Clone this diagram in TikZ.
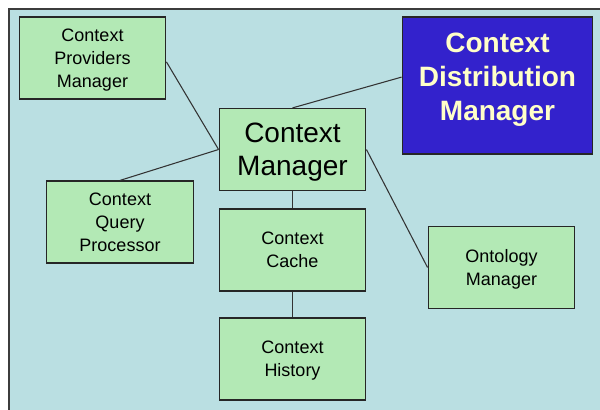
\documentclass[tikz,border=0pt]{standalone}
\usepackage{fontspec}
\setmainfont{Liberation Sans}
\usetikzlibrary{positioning}
\definecolor{panelbg}{RGB}{186,223,226}
\definecolor{boxgreen}{RGB}{179,233,181}
\definecolor{boxblue}{RGB}{51,34,204}
\definecolor{textyellow}{RGB}{255,255,200}
\definecolor{framegray}{RGB}{60,60,60}

\begin{document}
\begin{tikzpicture}[x=0.75pt, y=-0.75pt, module/.style={rectangle, draw=black!85, fill=boxgreen, line width=0.9pt, minimum width=110pt, minimum height=61.5pt, align=center, text depth=0pt, font=\fontsize{13.5}{17.25}\selectfont}, mainmodule/.style={module, font=\fontsize{21}{25}\selectfont}, distmodule/.style={rectangle, draw=black!85, fill=boxblue, line width=0.9pt, minimum width=143pt, minimum height=102.75pt, align=center, text depth=13pt, text=textyellow, font=\fontsize{21}{25.5}\selectfont\bfseries}, link/.style={draw=black!80, line width=0.8pt}]
\useasboundingbox (0,0) rectangle (600,410);
\fill [white] (0,0) rectangle (600,410);
\draw [framegray, fill=panelbg, line width=0.9pt] (9,9) rectangle (620,430);
\node [module] (providers) at (92.5,58) {Context\\Providers\\Manager};
\node [distmodule] (distribution) at (497.5,85.5) {Context\\Distribution\\Manager};
\node [mainmodule] (manager) at (292.5,149.5) {Context\\Manager};
\node [module] (query) at (120,222) {Context\\Query\\Processor};
\node [module] (cache) at (292.5,250) {Context\\Cache};
\node [module] (ontology) at (501.5,267.5) {Ontology\\Manager};
\node [module] (history) at (292.5,359) {Context\\History};
\draw [link] (providers.-3) -- (manager.west);
\draw [link] (query.north) -- (manager.west);
\draw [link] (manager.north) -- (distribution.175);
\draw [link] (manager.east) -- (ontology.west);
\draw [link] (manager.south) -- (cache.north);
\draw [link] (cache.south) -- (history.north);
\end{tikzpicture}
\end{document}
